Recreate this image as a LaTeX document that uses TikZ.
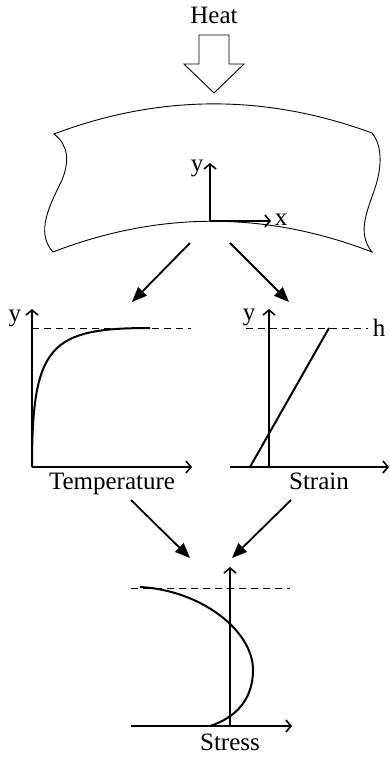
\documentclass[tikz,border=0pt]{standalone}
\usepackage{fontspec}
\setmainfont{Liberation Serif}
\usetikzlibrary{arrows.meta}
\begin{document}
\begin{tikzpicture}[x=1pt,y=-1pt,
  lbl/.style={font=\fontsize{25}{25}\selectfont, inner sep=0pt, anchor=base},
  axis/.style={line width=1.8pt, -{Straight Barb[length=5pt,width=12pt,line width=1.6pt]}},
  flow/.style={line width=1.8pt, -{Triangle[length=15pt,width=12pt]}},
  thin/.style={line width=0.9pt},
  guide/.style={line width=0.9pt, dash pattern=on 7pt off 5pt},
  curve/.style={line width=2pt}]
\useasboundingbox (0,0) rectangle (389,758);

% Heat
\node[lbl] (heat) at (214,23) {Heat};
\draw[thin] (199,35) -- (229,35) -- (229,64) -- (244,64) -- (214,93) -- (184,64) -- (199,64) -- cycle;

% plate
\draw[thin] (54,134) .. controls (160,94) and (266,94) .. (372,133)
  .. controls (382,145) and (382,165) .. (376,185)
  .. controls (368,210) and (356,232) .. (372,252)
  .. controls (266,211) and (159,211) .. (53,252)
  .. controls (35,232) and (50,205) .. (62,180)
  .. controls (70,160) and (68,145) .. (54,134) -- cycle;

\coordinate (po) at (210,221);
\coordinate (py) at (210,163);
\coordinate (px) at (271,221);
\draw[axis] (po) -- (py);
\draw[axis] (po) -- (px);
\node[lbl] (ply) at (197,171) {y};
\node[lbl] (plx) at (281,225) {x};

% arrows from plate
\coordinate (a1s) at (190,243);
\coordinate (a1e) at (132,302);
\coordinate (a2s) at (230,243);
\coordinate (a2e) at (289,302);
\draw[flow] (a1s) -- (a1e);
\draw[flow] (a2s) -- (a2e);

% Temperature graph
\coordinate (to) at (32,467);
\coordinate (ty) at (32,309);
\coordinate (tx) at (192,467);
\draw[guide] (32,328) -- (191,328);
\draw[axis] (to) -- (ty);
\draw[axis] (to) -- (tx);
\draw[curve] (to) .. controls (32,345) and (50,328) .. (150,328);
\node[lbl] (tyl) at (15,321) {y};
\node[lbl] (tlab) at (112,489) {Temperature};

% Strain graph
\coordinate (so) at (269,467);
\coordinate (sy) at (269,309);
\coordinate (sl) at (230,467);
\coordinate (sx) at (389,467);
\draw[guide] (246,328) -- (368,328);
\draw[axis] (so) -- (sy);
\draw[axis] (sl) -- (sx);
\draw[curve] (250,467) -- (329,328);
\node[lbl] (syl) at (249,320) {y};
\node[lbl] (sh) at (379,336) {h};
\node[lbl] (slab) at (319,489) {Strain};

% arrows to stress
\coordinate (b1s) at (131,500);
\coordinate (b1e) at (190,558);
\coordinate (b2s) at (291,500);
\coordinate (b2e) at (232,558);
\draw[flow] (b1s) -- (b1e);
\draw[flow] (b2s) -- (b2e);

% Stress graph
\coordinate (ro) at (230,726);
\coordinate (ry) at (230,567);
\coordinate (rl) at (131,726);
\coordinate (rx) at (292,726);
\draw[guide] (131,588) -- (290,588);
\draw[axis] (ro) -- (ry);
\draw[axis] (rl) -- (rx);
\draw[curve] (140,587) .. controls (200,590) and (253,630) .. (253,670)
  .. controls (253,700) and (235,718) .. (210,726);
\node[lbl] (rlab) at (230,750) {Stress};
\end{tikzpicture}
\end{document}
